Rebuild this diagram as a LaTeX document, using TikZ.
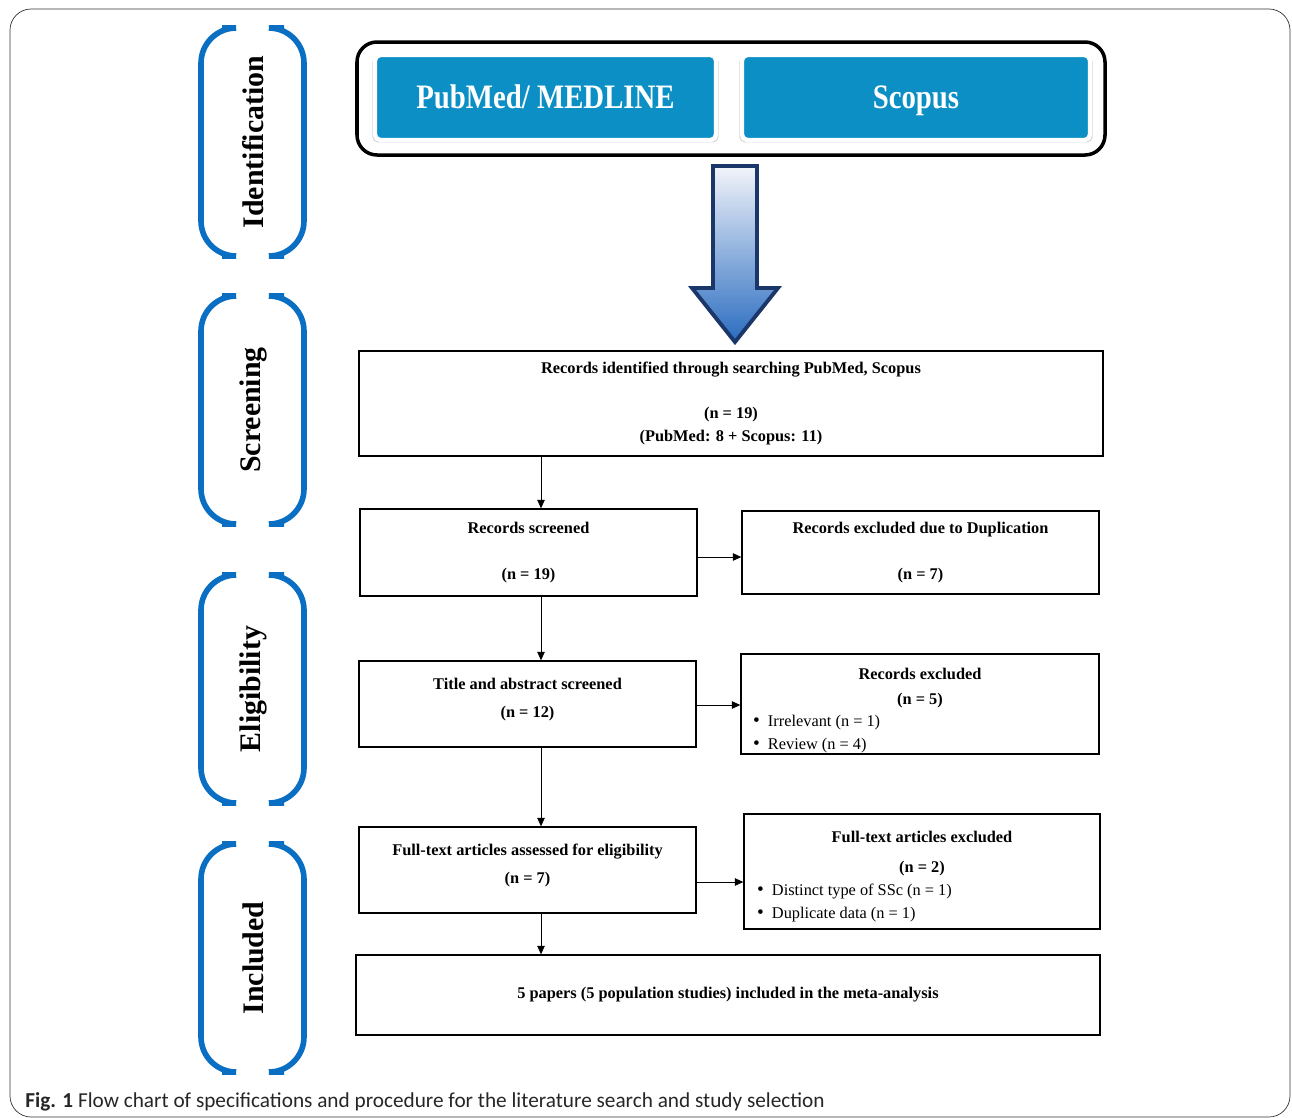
\documentclass[tikz,border=0pt]{standalone}
\usepackage{fontspec}
\setmainfont{Liberation Serif}
\newfontfamily\capfont{Carlito}
\usetikzlibrary{arrows.meta,shadows}
\definecolor{stageblue}{HTML}{0A6FC2}
\definecolor{dbblue}{HTML}{0B8FC5}
\definecolor{arrline}{HTML}{1B3668}
\definecolor{arrtop}{HTML}{F2F4FA}
\definecolor{arrbot}{HTML}{2A6CC0}
\newcommand{\bul}{{\fontsize{11}{13}\selectfont\textbullet}\hspace{0.5em}}

\begin{document}
\begin{tikzpicture}[x=0.02cm,y=-0.02cm,
  box/.style={draw,line width=0.8pt,align=center,inner sep=0pt,
    font=\bfseries\fontsize{9.3}{13}\selectfont},
  db/.style={fill=dbblue,draw=white,line width=2.5pt,rounded corners=3pt,
    minimum height=1.7cm,text=white,font=\bfseries\fontsize{19.5}{21}\selectfont,
    text height=0.5cm,text depth=0.08cm,
    drop shadow={opacity=0.35,shadow xshift=0pt,shadow yshift=-1pt,shadow scale=1.015}},
  stage/.style={rotate=90,font=\bfseries\fontsize{17}{20}\selectfont},
  >={Triangle[length=0.17cm,width=0.15cm]}]
\clip (0,0) rectangle (1292,1117);
\useasboundingbox (0,0) rectangle (1292,1117);
\draw[black!80,rounded corners=12] (10,9) rectangle (1290,1117);

\foreach \t/\lab in {28/Identification,296/Screening,575/Eligibility,844/Included}{
  \draw[stageblue,line width=3.2pt,rounded corners=20] (222,\t) -- (201,\t) -- (201,\t+228) -- (222,\t+228);
  \draw[stageblue,line width=3.2pt,rounded corners=20] (284,\t) -- (304,\t) -- (304,\t+228) -- (284,\t+228);
  \node[stage] (stage-\t) at (253,\t+114) {\lab};
}

\draw[line width=2pt,rounded corners=0.4cm] (357,42) rectangle (1105,155);
\node[db,minimum width=6.82cm] (pubmed) at (545.5,97.5) {\scalebox{0.84}[1]{PubMed/ MEDLINE}};
\node[db,minimum width=6.96cm] (scopus) at (916,97.5) {\scalebox{0.84}[1]{Scopus}};

\shadedraw[top color=arrtop,bottom color=arrbot,draw=arrline,line width=2.2pt,line join=miter]
  (713,166) -- (757,166) -- (757,288) -- (778,288) -- (735,342) -- (692,288) -- (713,288) -- cycle;

\node[box,minimum width=14.88cm,minimum height=2.1cm] (rec) at (731,403.5)
  {Records identified through searching PubMed, Scopus\\ \\ (n = 19)\\ (PubMed: 8 + Scopus: 11)};
\node[box,minimum width=6.74cm,minimum height=1.74cm] (scr) at (528.5,552.5)
  {Records screened\\ \\ (n = 19)};
\node[box,minimum width=7.14cm,minimum height=1.66cm] (dup) at (920.5,552.5)
  {Records excluded due to Duplication\\ \\ (n = 7)};
\node[box,minimum width=6.74cm,minimum height=1.72cm] (tab) at (527.5,704)
  {Title and abstract screened\\[3pt] (n = 12)\\[-6pt]\mbox{}};
\node[box,minimum width=7.16cm,minimum height=2cm] (exc) at (920,704)
  {\rule{0pt}{14pt}Records excluded\\[1pt] (n = 5)\\
   \makebox[6.68cm][l]{\mdseries\bul Irrelevant (n = 1)}\\
   \makebox[6.68cm][l]{\mdseries\bul Review (n = 4)}};
\node[box,minimum width=6.74cm,minimum height=1.72cm] (ful) at (527.5,870)
  {Full-text articles assessed for eligibility\\[3pt] (n = 7)\\[-6pt]\mbox{}};
\node[box,minimum width=7.12cm,minimum height=2.3cm] (fex) at (922,871.5)
  {\rule{0pt}{12.5pt}Full-text articles excluded\\[4pt] (n = 2)\\
   \makebox[6.6cm][l]{\mdseries\bul Distinct type of SSc (n = 1)}\\
   \makebox[6.6cm][l]{\mdseries\bul Duplicate data (n = 1)}};
\node[box,minimum width=14.88cm,minimum height=1.6cm] (inc) at (728,995)
  {5 papers (5 population studies) included in the meta-analysis};

\coordinate (spine) at (541,0);
\coordinate (row1) at (0,557);
\coordinate (row2) at (0,705);
\coordinate (row3) at (0,882);
\draw[->] (rec.south -| spine) -- (scr.north -| spine);
\draw[->] (scr.south -| spine) -- (tab.north -| spine);
\draw[->] (tab.south -| spine) -- (ful.north -| spine);
\draw[->] (ful.south -| spine) -- (inc.north -| spine);
\draw[->] (scr.east |- row1) -- (dup.west |- row1);
\draw[->] (tab.east |- row2) -- (exc.west |- row2);
\draw[->] (ful.east |- row3) -- (fex.west |- row3);

\node[anchor=base west,inner sep=0pt,text=black!85,font=\capfont\fontsize{12.1}{14}\selectfont] (caption) at (25,1107)
  {\textbf{Fig. 1} Flow chart of specifications and procedure for the literature search and study selection};
\end{tikzpicture}
\end{document}
